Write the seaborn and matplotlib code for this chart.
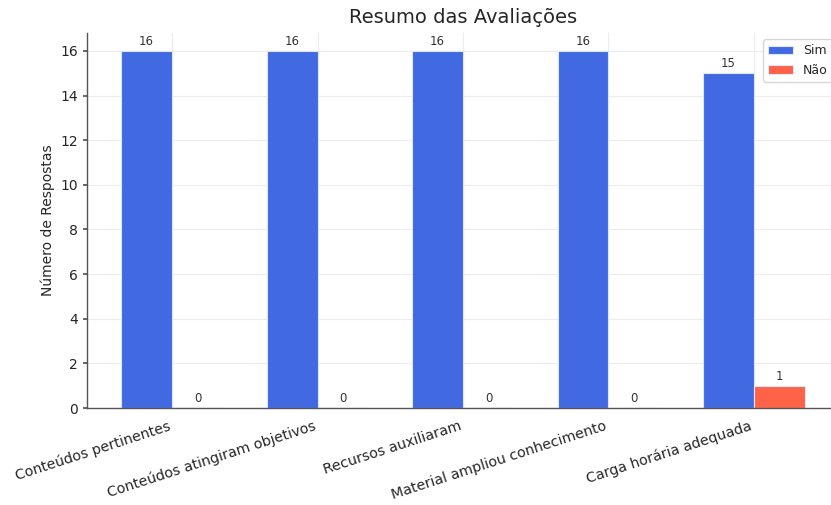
import pandas as pd
import seaborn as sns
import matplotlib.pyplot as plt

categorias = [
    "Conteúdos pertinentes",
    "Conteúdos atingiram objetivos",
    "Recursos auxiliaram",
    "Material ampliou conhecimento",
    "Carga horária adequada",
]
sim = [16, 16, 16, 16, 15]
nao = [0, 0, 0, 0, 1]

df = pd.DataFrame({
    "categoria": categorias * 2,
    "resposta": ["Sim"] * len(categorias) + ["Não"] * len(categorias),
    "valor": sim + nao,
})

sns.set_theme(style="whitegrid")
plt.rcParams["font.family"] = ["DejaVu Sans"]

fig = plt.figure(figsize=(8.31, 5.05), dpi=100)
ax = fig.add_axes([0.1047, 0.192, 0.905, 0.7426])

sns.barplot(data=df, x="categoria", y="valor", hue="resposta",
            palette={"Sim": "#4169E1", "Não": "#FF6347"}, saturation=1,
            width=0.7, edgecolor="#dde6ff", linewidth=0.8, ax=ax)

for cont in ax.containers:
    ax.bar_label(cont, fontsize=8.5, padding=2, color="#333333")

ax.set_xlim(-0.585, 4.585)
ax.set_ylim(0, 16.8)
ax.set_yticks(range(0, 17, 2))
ax.grid(True, color="#ececec", linewidth=0.8)
ax.set_axisbelow(True)
sns.despine(ax=ax)
for s in ["left", "bottom"]:
    ax.spines[s].set_color("#555555")
    ax.spines[s].set_linewidth(1.0)
ax.tick_params(axis="y", left=True, length=3, color="#555555", labelsize=10)
ax.tick_params(axis="x", bottom=False, labelsize=10.3, pad=2)
plt.setp(ax.get_xticklabels(), rotation=18, ha="right")

ax.set_xlabel("")
ax.set_ylabel("Número de Respostas", fontsize=10)
ax.set_title("Resumo das Avaliações", fontsize=14, pad=7)
ax.legend(loc="upper right", fontsize=9, frameon=True)

fig.savefig("out.png", dpi=100)
